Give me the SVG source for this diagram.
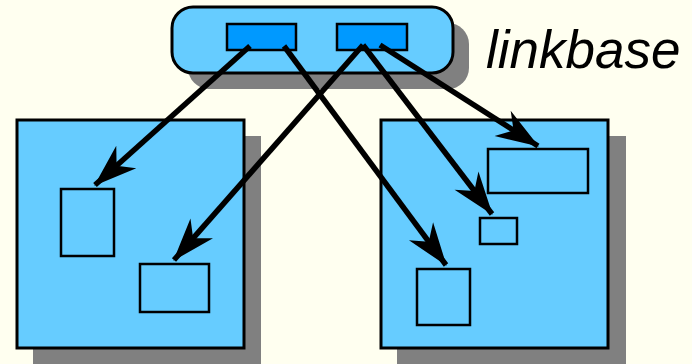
<svg xmlns="http://www.w3.org/2000/svg" width="692" height="364" viewBox="0 0 692 364">
  <style>
    .shadow { fill: #808080; }
    .box { fill: #66ccff; stroke: #000; stroke-width: 3; }
    .anchor { fill: #0099ff; stroke: #000; stroke-width: 2.5; }
    .target { fill: #66ccff; stroke: #000; stroke-width: 2.5; }
    .link { stroke: #000; stroke-width: 5.5; fill: none; marker-end: url(#barb); }
    .label { font-family: "Liberation Sans", Arial, sans-serif; font-style: italic; font-size: 53px; fill: #000; }
  </style>
  <defs>
    <marker id="barb" markerUnits="userSpaceOnUse" markerWidth="50" markerHeight="34" refX="0" refY="0" viewBox="-44 -17 50 34" orient="auto">
      <path d="M1,0 L-42,-15 L-29,0 L-42,15 Z" fill="#000"/>
    </marker>
  </defs>
  <rect width="692" height="364" fill="#fffff0"/>

  <g id="linkbase">
    <rect class="shadow" x="188" y="23" width="281" height="66" rx="21"/>
    <rect class="box" x="172" y="7" width="281" height="66" rx="21"/>
    <rect class="anchor" x="227" y="24" width="69" height="26"/>
    <rect class="anchor" x="337" y="24" width="70" height="26"/>
    <text class="label" x="486" y="68">linkbase</text>
  </g>

  <g id="doc-left">
    <rect class="shadow" x="33" y="136" width="228" height="228"/>
    <rect class="box" x="17" y="120" width="227" height="228"/>
    <rect class="target" x="61" y="189" width="53" height="67"/>
    <rect class="target" x="140" y="264" width="69" height="48"/>
  </g>

  <g id="doc-right">
    <rect class="shadow" x="397" y="136" width="229" height="228"/>
    <rect class="box" x="381" y="120" width="227" height="228"/>
    <rect class="target" x="488" y="149" width="100" height="44"/>
    <rect class="target" x="480" y="218" width="37" height="26"/>
    <rect class="target" x="417" y="269" width="53" height="56"/>
  </g>

  <g id="connectors">
    <line class="link" x1="250" y1="46" x2="95" y2="185"/>
    <line class="link" x1="284" y1="46" x2="446" y2="265"/>
    <line class="link" x1="363" y1="45" x2="174" y2="260"/>
    <line class="link" x1="363" y1="45" x2="492" y2="214"/>
    <line class="link" x1="380" y1="45" x2="538" y2="146"/>
  </g>
</svg>
